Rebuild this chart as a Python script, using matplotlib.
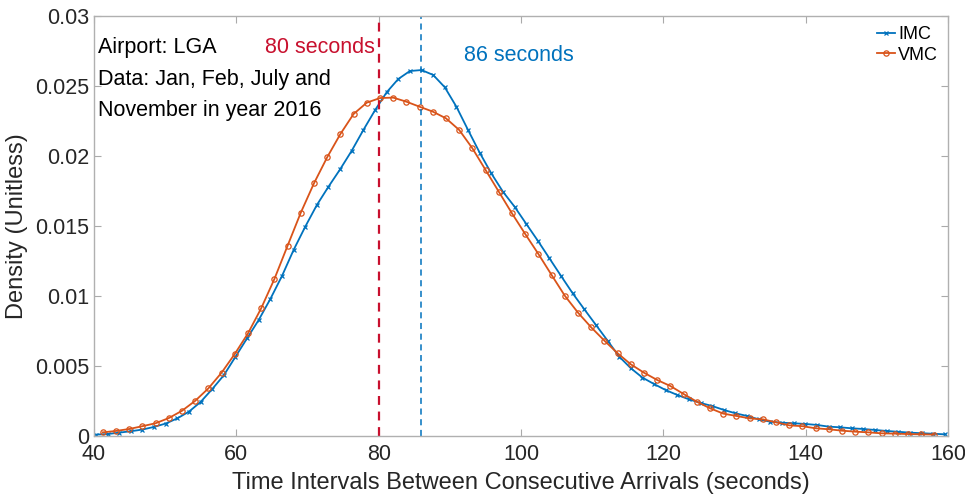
import numpy as np
import matplotlib.pyplot as plt

plt.rcParams['font.family'] = ['Liberation Sans', 'DejaVu Sans']

# IMC density, kernel grid (74 points)
imc_t = np.linspace(40.27, 40.27 + 73 * 1.634, 74)
imc = [0.00010, 0.00014, 0.00024, 0.00034, 0.00046, 0.00065, 0.00089, 0.00126,
       0.00174, 0.00243, 0.00335, 0.00434, 0.00566, 0.00698, 0.00829, 0.00979,
       0.01143, 0.01329, 0.01495, 0.01650, 0.01781, 0.01905, 0.02038, 0.02186,
       0.02327, 0.02455, 0.02550, 0.02607, 0.02614, 0.02579, 0.02491, 0.02352,
       0.02186, 0.02024, 0.01876, 0.01745, 0.01638, 0.01516, 0.01395, 0.01269,
       0.01143, 0.01019, 0.00905, 0.00793, 0.00681, 0.00567, 0.00484, 0.00417,
       0.00371, 0.00328, 0.00293, 0.00262, 0.00236, 0.00214, 0.00186, 0.00162,
       0.00143, 0.00119, 0.00102, 0.00095, 0.00091, 0.00086, 0.00079, 0.00067,
       0.00062, 0.00055, 0.00050, 0.00043, 0.00036, 0.00030, 0.00024, 0.00020,
       0.00016, 0.00012]

# VMC density (64 points)
vmc_t = np.linspace(41.23, 41.23 + 63 * 1.855, 64)
vmc = [0.00026, 0.00036, 0.00050, 0.00070, 0.00091, 0.00128, 0.00180, 0.00251,
       0.00340, 0.00452, 0.00586, 0.00733, 0.00912, 0.01121, 0.01359, 0.01595,
       0.01805, 0.01991, 0.02157, 0.02300, 0.02381, 0.02414, 0.02417, 0.02388,
       0.02352, 0.02317, 0.02269, 0.02186, 0.02055, 0.01900, 0.01745, 0.01590,
       0.01443, 0.01300, 0.01150, 0.01002, 0.00881, 0.00776, 0.00681, 0.00591,
       0.00512, 0.00452, 0.00400, 0.00357, 0.00300, 0.00245, 0.00198, 0.00160,
       0.00143, 0.00126, 0.00119, 0.00098, 0.00076, 0.00070, 0.00055, 0.00048,
       0.00038, 0.00031, 0.00026, 0.00019, 0.00017, 0.00014, 0.00012, 0.00010]

imc_peak = 86
vmc_peak = 80
note_lines = ['Airport: LGA', 'Data: Jan, Feb, July and', 'November in year 2016']

blue = '#0072BD'
orange = '#D95319'
red = '#C8102E'

fig = plt.figure(figsize=(9.65, 4.99), dpi=100)
ax = fig.add_axes([94 / 965, 1 - 436 / 499, (948 - 94) / 965, (436 - 16) / 499])

ax.plot(imc_t, imc, color=blue, lw=1.3, marker='x', ms=3.5, mew=0.9, label='IMC')
ax.plot(vmc_t, vmc, color=orange, lw=1.3, marker='o', ms=3.8, mew=0.9,
        mfc='none', label='VMC')
ax.axvline(vmc_peak, color=red, lw=1.6, ls=(0, (4, 3)))
ax.axvline(imc_peak, color=blue, lw=1.1, ls=(0, (4, 3)))

ax.set_xlim(40, 160)
ax.set_ylim(0, 0.03)
ax.set_xticks([40, 60, 80, 100, 120, 140, 160])
ax.set_yticks([0, 0.005, 0.01, 0.015, 0.02, 0.025, 0.03])
ax.set_yticklabels(['0', '0.005', '0.01', '0.015', '0.02', '0.025', '0.03'])
ax.tick_params(direction='in', length=5, width=0.8, color='#aaaaaa',
               labelsize=15.5, labelcolor='#262626', top=True, right=True)
ax.tick_params(axis='x', pad=6)
for s in ax.spines.values():
    s.set_color('#b0b0b0')
    s.set_linewidth(1.0)

ax.set_xlabel('Time Intervals Between Consecutive Arrivals (seconds)',
              fontsize=17, color='#262626', labelpad=5)
ax.set_ylabel('Density (Unitless)', fontsize=17, color='#262626', labelpad=5)

# annotation, one line per text so the boxes stay apart
for i, line in enumerate(note_lines):
    ax.text(40.5, 0.0285 - i * 0.00226, line, fontsize=15.5, color='black',
            va='top', ha='left')
ax.text(79.4, 0.0285, '80 seconds', fontsize=15.5, color=red, va='top', ha='right')
ax.text(92, 0.0279, '86 seconds', fontsize=15.5, color=blue, va='top', ha='left')

ax.legend(loc='upper right', frameon=False, fontsize=13, handlelength=1.0,
          handletextpad=0.2, borderaxespad=0.15, labelspacing=0.2)

fig.savefig('out.png', dpi=100)
